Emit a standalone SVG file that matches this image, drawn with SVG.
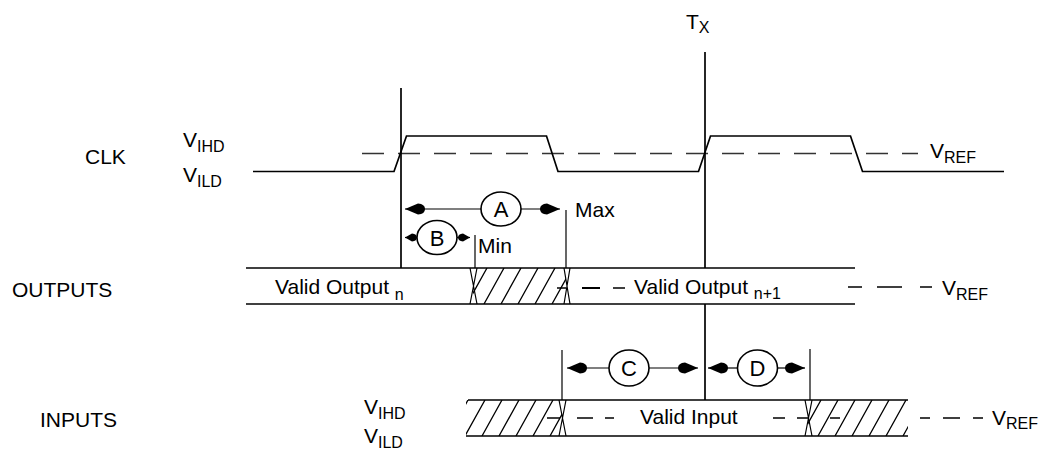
<svg xmlns="http://www.w3.org/2000/svg" width="1040" height="453" viewBox="0 0 1040 453">
<style>
  text { font-family: "Liberation Sans", Arial, Helvetica, sans-serif; font-size: 21px; fill: #000; }
  .sub { font-size: 16px; }
  .wave { fill: none; stroke: #000; stroke-width: 1.7; }
  .thin { fill: none; stroke: #000; stroke-width: 1.2; }
  .dash { fill: none; stroke: #000; stroke-width: 1.3; }
  .clkdash { fill: none; stroke: #333; stroke-width: 1.5; stroke-dasharray: 22 14; }
  .hatch { fill: none; stroke: #000; stroke-width: 1.3; }
  .bubble { fill: #fff; stroke: #000; stroke-width: 1.6; }
  .lbl { text-anchor: middle; font-size: 22px; }
</style>
<defs>
  <marker id="ah" markerUnits="userSpaceOnUse" viewBox="-22 -7 23 14" markerWidth="23" markerHeight="14" refX="0" refY="0" orient="auto">
    <path d="M0,0 L-13,-5.5 Q-20,-5 -20,0 Q-20,5 -13,5.5 Z" fill="#000"/>
  </marker>
  <marker id="ahs" markerUnits="userSpaceOnUse" viewBox="-13 -5 14 10" markerWidth="14" markerHeight="10" refX="0" refY="0" orient="auto">
    <path d="M0,0 L-7,-4 Q-12,-3.5 -12,0 Q-12,3.5 -7,4 Z" fill="#000"/>
  </marker>
  <clipPath id="cOut"><rect x="473" y="268" width="93" height="36"/></clipPath>
  <clipPath id="cInL"><rect x="466" y="400" width="96" height="36"/></clipPath>
  <clipPath id="cInR"><rect x="808" y="400" width="100" height="36"/></clipPath>
</defs>

<g id="labels">
  <text x="85" y="164">CLK</text>
  <text x="183" y="147">V<tspan class="sub" dy="5">IHD</tspan></text>
  <text x="183" y="182">V<tspan class="sub" dy="5">ILD</tspan></text>
  <text x="12" y="297">OUTPUTS</text>
  <text x="40" y="427">INPUTS</text>
  <text x="364" y="414">V<tspan class="sub" dy="5">IHD</tspan></text>
  <text x="364" y="443">V<tspan class="sub" dy="5">ILD</tspan></text>
  <text x="686" y="29">T<tspan class="sub" dy="4">X</tspan></text>
  <text x="930" y="158">V<tspan class="sub" dy="5">REF</tspan></text>
  <text x="942" y="295">V<tspan class="sub" dy="5">REF</tspan></text>
  <text x="992" y="425">V<tspan class="sub" dy="4">REF</tspan></text>
  <text x="575" y="217">Max</text>
  <text x="478" y="253">Min</text>
</g>

<g id="clk">
  <line class="clkdash" x1="362" y1="153.5" x2="918" y2="153.5"/>
  <polyline class="wave" points="253,171.5 394,171.5 406.5,136 546.5,136 558,171.5 698.5,171.5 710.5,136 850.5,136 862.5,171.5 1004,171.5"/>
</g>

<g id="outputs">
  <line class="wave" x1="246" y1="268" x2="855" y2="268"/>
  <line class="wave" x1="246" y1="304" x2="855" y2="304"/>
  <g clip-path="url(#cOut)">
    <path class="hatch" d="M450,304 L470,268 M467,304 L487,268 M484,304 L504,268 M501,304 L521,268 M518,304 L538,268 M535,304 L555,268 M552,304 L572,268"/>
  </g>
  <path class="thin" d="M470,268 L477,304 M477,268 L470,304 M564,268 L570,304 M570,268 L564,304"/>
  <text x="275" y="294">Valid Output <tspan class="sub" dy="6">n</tspan></text>
  <text x="634" y="294">Valid Output <tspan class="sub" dy="5">n+1</tspan></text>
  <path class="dash" d="M557,288 H566 M613,288 H625 M848,287 H862 M877,287 H902 M920,287 H932"/>
  <path d="M582,288 H600" stroke="#000" stroke-width="2"/>
</g>

<g id="inputs">
  <line class="wave" x1="468" y1="400" x2="908" y2="400"/>
  <line class="wave" x1="466" y1="436" x2="908" y2="436"/>
  <g clip-path="url(#cInL)">
    <path class="hatch" d="M448,436 L468,400 M465,436 L485,400 M482,436 L502,400 M499,436 L519,400 M516,436 L536,400 M533,436 L553,400 M550,436 L570,400"/>
  </g>
  <g clip-path="url(#cInR)">
    <path class="hatch" d="M801,436 L821,400 M818,436 L838,400 M835,436 L855,400 M852,436 L872,400 M869,436 L889,400 M886,436 L906,400 M903,436 L923,400"/>
  </g>
  <path class="thin" d="M559,400 L566,436 M566,400 L559,436 M805,400 L812,436 M812,400 L805,436"/>
  <text x="640" y="424">Valid Input</text>
  <path class="dash" d="M547,418 H560 M577,418 H593 M605,418 H614 M773,418 H785 M797,418 H808 M830,418 H840 M920,418 H930 M943,418 H960 M973,418 H983"/>
</g>

<g id="connectors">
  <line class="wave" x1="401" y1="88" x2="401" y2="268"/>
  <line class="wave" x1="705" y1="52" x2="705" y2="268"/>
  <line class="wave" x1="705" y1="304" x2="705" y2="400"/>
  <line class="thin" x1="566" y1="210" x2="566" y2="268"/>
  <line class="thin" x1="475" y1="235" x2="475" y2="268"/>
  <line class="thin" x1="562" y1="350" x2="562" y2="400"/>
  <line class="thin" x1="810" y1="349" x2="810" y2="400"/>
  <line class="thin" x1="481" y1="209" x2="405" y2="209" marker-end="url(#ah)"/>
  <line class="thin" x1="521" y1="209" x2="560" y2="209" marker-end="url(#ah)"/>
  <line class="thin" x1="417" y1="237.5" x2="405" y2="237.5" marker-end="url(#ahs)"/>
  <line class="thin" x1="457" y1="237.5" x2="470" y2="237.5" marker-end="url(#ahs)"/>
  <line class="thin" x1="609" y1="368" x2="567" y2="368" marker-end="url(#ah)"/>
  <line class="thin" x1="649" y1="368" x2="698" y2="368" marker-end="url(#ah)"/>
  <line class="thin" x1="738" y1="368" x2="708" y2="368" marker-end="url(#ah)"/>
  <line class="thin" x1="777" y1="368" x2="805" y2="368" marker-end="url(#ah)"/>
</g>

<g id="nodeA"><ellipse class="bubble" cx="501" cy="209" rx="20" ry="17"/><text class="lbl" x="501" y="217">A</text></g>
<g id="nodeB"><ellipse class="bubble" cx="437" cy="237.5" rx="20" ry="17"/><text class="lbl" x="437" y="245.5">B</text></g>
<g id="nodeC"><ellipse class="bubble" cx="629" cy="368" rx="20" ry="18"/><text class="lbl" x="629" y="376">C</text></g>
<g id="nodeD"><ellipse class="bubble" cx="757.5" cy="368" rx="20" ry="18"/><text class="lbl" x="757.5" y="376">D</text></g>
</svg>
